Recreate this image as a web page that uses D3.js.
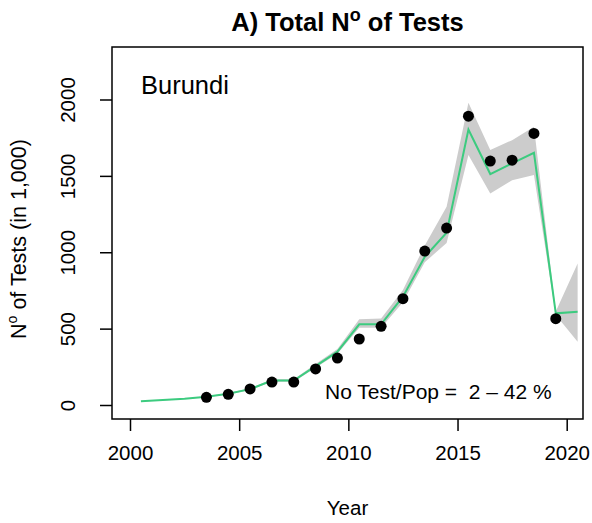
<!DOCTYPE html>
<html>
<head>
<meta charset="utf-8">
<script src="https://cdn.jsdelivr.net/npm/d3@7"></script>
<style>
  body { margin: 0; background: #fff; }
  text { font-family: "Liberation Sans", Arial, sans-serif; }
</style>
</head>
<body>
<script>
// observed data (dots)
var obsYears = [2003.5, 2004.5, 2005.5, 2006.5, 2007.5, 2008.5, 2009.5, 2010.5, 2011.5,
                2012.5, 2013.5, 2014.5, 2015.5, 2016.5, 2017.5, 2018.5, 2019.5];
var obsTests = [50, 70, 105, 150, 150, 236, 307, 432, 515,
                696, 1008, 1158, 1891, 1597, 1603, 1778, 565];

// model estimate and its band
var fitYears = [2000.5, 2001.5, 2002.5, 2003.5, 2004.5, 2005.5, 2006.5, 2007.5, 2008.5, 2009.5, 2010.5,
                2011.5, 2012.5, 2013.5, 2014.5, 2015.5, 2016.5, 2017.5, 2018.5, 2019.5, 2020.5];
var fitMid   = [24, 32, 41, 54, 74, 104, 160, 160, 255, 349, 528,
                528, 709, 970, 1128, 1804, 1512, 1582, 1651, 600, 611];
var fitLow   = [23, 30, 39, 51, 70, 99, 153, 153, 244, 335, 505,
                505, 672, 935, 1060, 1636, 1385, 1472, 1505, 590, 414];
var fitHigh  = [25, 34, 43, 57, 78, 109, 168, 168, 268, 366, 562,
                567, 753, 1045, 1298, 1978, 1669, 1734, 1821, 612, 927];

var xTicks = [2000, 2005, 2010, 2015, 2020];
var yTicks = [0, 500, 1000, 1500, 2000];

var W = 592, H = 523;
var box = {left: 112, right: 583, top: 47, bottom: 419};

var x = d3.scaleLinear().domain([2000, 2020]).range([130, 566.7]);
var y = d3.scaleLinear().domain([0, 2000]).range([405, 99.5]);

var svg = d3.select("body").append("svg")
  .attr("width", W)
  .attr("height", H);

// band
var fit = fitYears.map(function(d, i) { return {yr: d, m: fitMid[i], lo: fitLow[i], hi: fitHigh[i]}; });

svg.append("path")
  .datum(fit)
  .attr("d", d3.area()
    .x(function(d) { return x(d.yr); })
    .y0(function(d) { return y(d.lo); })
    .y1(function(d) { return y(d.hi); }))
  .attr("fill", "#cccccc");

svg.append("path")
  .datum(fit)
  .attr("d", d3.line()
    .x(function(d) { return x(d.yr); })
    .y(function(d) { return y(d.m); }))
  .attr("fill", "none")
  .attr("stroke", "#3ccb7f")
  .attr("stroke-width", 2);

svg.selectAll("circle")
  .data(obsYears)
  .enter()
  .append("circle")
  .attr("cx", function(d) { return x(d); })
  .attr("cy", function(d, i) { return y(obsTests[i]); })
  .attr("r", 5.5)
  .attr("fill", "black");

// box
svg.append("rect")
  .attr("x", box.left)
  .attr("y", box.top)
  .attr("width", box.right - box.left)
  .attr("height", box.bottom - box.top)
  .attr("fill", "none")
  .attr("stroke", "black")
  .attr("stroke-width", 1.5);

// x axis
var xa = svg.append("g").attr("transform", "translate(0," + box.bottom + ")")
  .call(d3.axisBottom(x).tickValues(xTicks).tickFormat(d3.format("d")).tickSize(12).tickPadding(14));
xa.select(".domain").remove();
xa.selectAll("line").attr("stroke-width", 1.5);
xa.selectAll("text").attr("font-size", 20.5).attr("fill", "black")
  .style("font-family", "Liberation Sans, Arial, sans-serif");

// y axis
var ya = svg.append("g").attr("transform", "translate(" + box.left + ",0)")
  .call(d3.axisLeft(y).tickValues(yTicks).tickFormat(d3.format("d")).tickSize(12).tickPadding(8));
ya.select(".domain").remove();
ya.selectAll("line").attr("stroke-width", 1.5);
ya.selectAll("text")
  .attr("font-size", 20.5).attr("fill", "black")
  .style("font-family", "Liberation Sans, Arial, sans-serif")
  .attr("text-anchor", "middle")
  .attr("x", null).attr("dy", null)
  .attr("transform", "translate(-37,0) rotate(-90)");

// title
var title = svg.append("text")
  .attr("x", (box.left + box.right) / 2)
  .attr("y", 31)
  .attr("text-anchor", "middle")
  .attr("font-size", 25.5)
  .attr("font-weight", "bold");
title.append("tspan").text("A) Total N");
title.append("tspan").attr("dy", -10).attr("font-size", 18).text("o");
title.append("tspan").attr("dy", 10).text(" of Tests");

// axis labels
svg.append("text")
  .attr("x", (box.left + box.right) / 2)
  .attr("y", 515)
  .attr("text-anchor", "middle")
  .attr("font-size", 20.5)
  .text("Year");

var yl = svg.append("text")
  .attr("transform", "translate(26,239) rotate(-90)")
  .attr("text-anchor", "middle")
  .attr("font-size", 21.5);
yl.append("tspan").text("N");
yl.append("tspan").attr("dy", -9).attr("font-size", 14).text("o");
yl.append("tspan").attr("dy", 9).text(" of Tests (in 1,000)");

// annotations
svg.append("text")
  .attr("x", 141)
  .attr("y", 94)
  .attr("font-size", 25.5)
  .text("Burundi");

svg.append("text")
  .attr("x", 325)
  .attr("y", 399)
  .attr("font-size", 21)
  .attr("xml:space", "preserve")
  .style("white-space", "pre")
  .text("No Test/Pop =  2 \u2013 42 %");
</script>
</body>
</html>
